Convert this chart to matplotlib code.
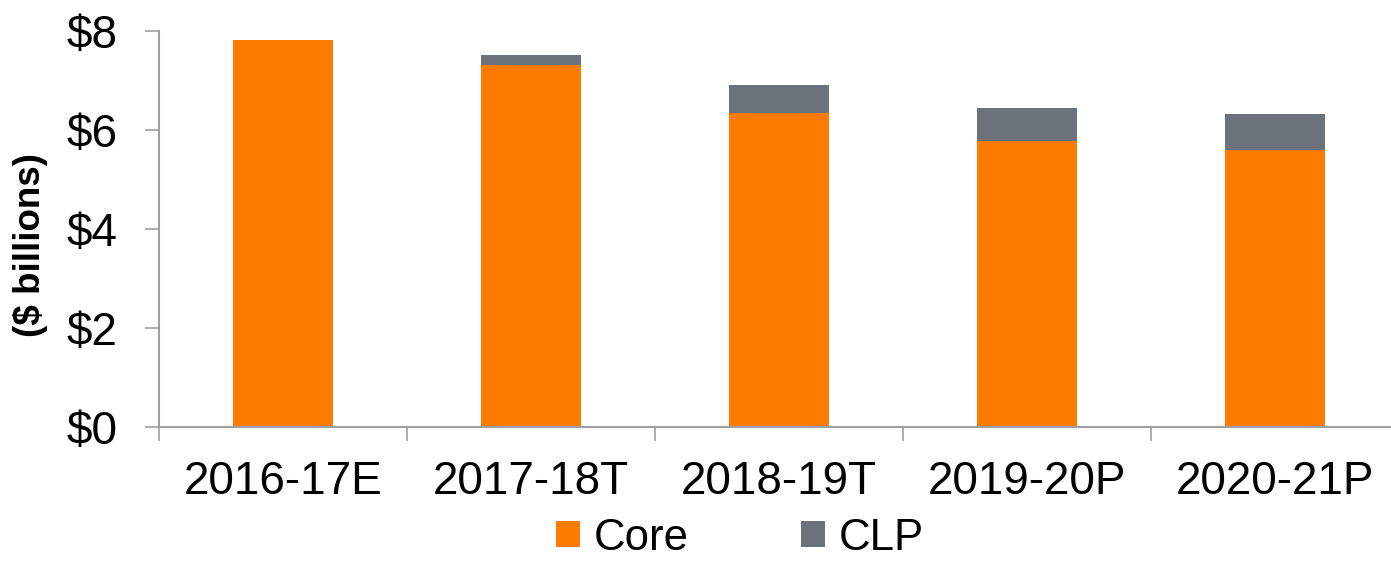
import matplotlib
matplotlib.use("Agg")
import matplotlib.pyplot as plt
from matplotlib.patches import Patch
import numpy as np

plt.rcParams['font.family'] = ['Liberation Sans', 'DejaVu Sans']

categories = ["2016-17E", "2017-18T", "2018-19T", "2019-20P", "2020-21P"]
core = [7.81, 7.31, 6.35, 5.77, 5.60]
clp = [0.0, 0.21, 0.56, 0.67, 0.72]
yticks = [0, 2, 4, 6, 8]
ytick_labels = ["$0", "$2", "$4", "$6", "$8"]

ORANGE = "#FF7B00"
GREY = "#6B727B"
AXIS = "#A0A0A0"

W, H = 1391, 564
fig = plt.figure(figsize=(W / 100, H / 100), dpi=100)
left, right = 159 / W, 1399 / W
bottom, top = (H - 427) / H, (H - 31) / H
ax = fig.add_axes([left, bottom, right - left, top - bottom])

x = np.arange(len(categories))
ax.bar(x, core, width=0.4, color=ORANGE, zorder=2)
ax.bar(x, clp, width=0.4, bottom=core, color=GREY, zorder=2)

ax.set_xlim(-0.5, len(categories) - 0.5)
ax.set_ylim(0, 8)

for s in ["top", "right"]:
    ax.spines[s].set_visible(False)
for s in ["left", "bottom"]:
    ax.spines[s].set_color(AXIS)
    ax.spines[s].set_linewidth(1.5)

ax.set_yticks(yticks)
ax.set_yticklabels(ytick_labels)
ax.tick_params(axis="y", length=10, width=1.2, color=AXIS, pad=20, labelsize=33)

ax.set_xticks(np.arange(-0.5, len(categories), 1.0))
ax.set_xticklabels([])
ax.set_xticks(x, minor=True)
ax.set_xticklabels(categories, minor=True)
ax.tick_params(axis="x", which="major", length=10, width=1.2, color=AXIS)
ax.tick_params(axis="x", which="minor", length=0, pad=24, labelsize=33)

fig.text(30 / W, 1 - 245 / H, "($ billions)", rotation=90, ha="center", va="center",
         fontsize=26.5, fontweight="bold")

handles = [Patch(facecolor=ORANGE, edgecolor="none", label="Core"),
           Patch(facecolor=GREY, edgecolor="none", label="CLP")]
fig.legend(handles=handles, loc="center", bbox_to_anchor=(740 / W, 1 - 538 / H),
           ncol=2, frameon=False, fontsize=31.5, handlelength=0.55, handleheight=0.55,
           handletextpad=0.32, columnspacing=2.55, borderpad=0, borderaxespad=0)

fig.savefig("out.png", dpi=100)
